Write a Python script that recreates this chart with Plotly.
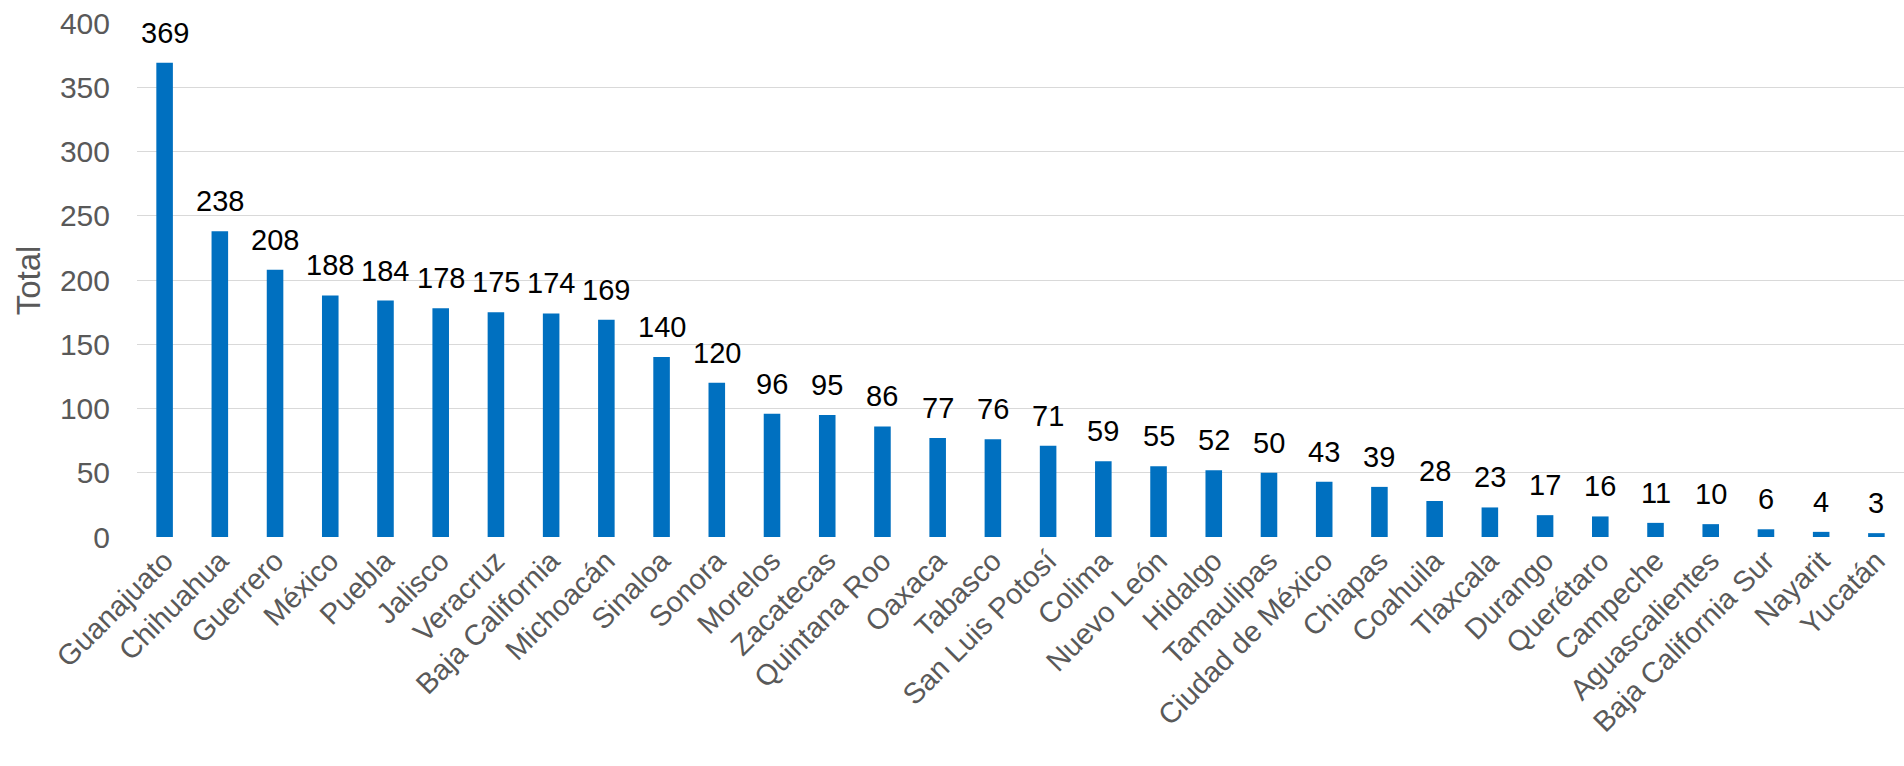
import plotly.graph_objects as go

states = ["Guanajuato", "Chihuahua", "Guerrero", "México", "Puebla", "Jalisco",
          "Veracruz", "Baja California", "Michoacán", "Sinaloa", "Sonora", "Morelos",
          "Zacatecas", "Quintana Roo", "Oaxaca", "Tabasco", "San Luis Potosí", "Colima",
          "Nuevo León", "Hidalgo", "Tamaulipas", "Ciudad de México", "Chiapas", "Coahuila",
          "Tlaxcala", "Durango", "Querétaro", "Campeche", "Aguascalientes",
          "Baja California Sur", "Nayarit", "Yucatán"]
totals = [369, 238, 208, 188, 184, 178, 175, 174, 169, 140, 120, 96, 95, 86, 77, 76,
          71, 59, 55, 52, 50, 43, 39, 28, 23, 17, 16, 11, 10, 6, 4, 3]
y_ticks = [0, 50, 100, 150, 200, 250, 300, 350, 400]
y_title = "Total"

FONT = "Arial, Liberation Sans, sans-serif"

fig = go.Figure()
fig.add_trace(go.Bar(x=states, y=totals, marker=dict(color="#0070C0", line=dict(width=0)),
                     hoverinfo="x+y"))

annotations = [dict(x=s, y=v, xref="x", yref="y", text=str(v), showarrow=False,
                    yanchor="bottom", yshift=12,
                    font=dict(family=FONT, size=29, color="#000000"))
               for s, v in zip(states, totals)]
annotations.append(dict(x=-0.0615, y=0.5, xref="paper", yref="paper", text=y_title,
                        showarrow=False, textangle=-90, xanchor="center", yanchor="middle",
                        font=dict(family=FONT, size=33, color="#595959")))

fig.update_layout(
    width=1904, height=766,
    margin=dict(l=137, r=0, t=23, b=229, autoexpand=False),
    paper_bgcolor="#ffffff", plot_bgcolor="#ffffff",
    bargap=0.70,
    showlegend=False,
    annotations=annotations,
    font=dict(family=FONT),
)
fig.update_xaxes(tickangle=-45, tickfont=dict(family=FONT, size=29, color="#595959"),
                 showgrid=False, showline=False, ticks="", automargin=False)
fig.update_yaxes(range=[0, 400], tickvals=y_ticks, showgrid=True, gridcolor="#d9d9d9",
                 gridwidth=1.4, zeroline=False, showline=False, ticks="",
                 ticklabelstandoff=26,
                 tickfont=dict(family=FONT, size=30, color="#595959"), automargin=False)

fig.write_html("out.html", config={"displayModeBar": False},
               post_script="document.body.style.margin='0';document.body.style.overflow='hidden';")
